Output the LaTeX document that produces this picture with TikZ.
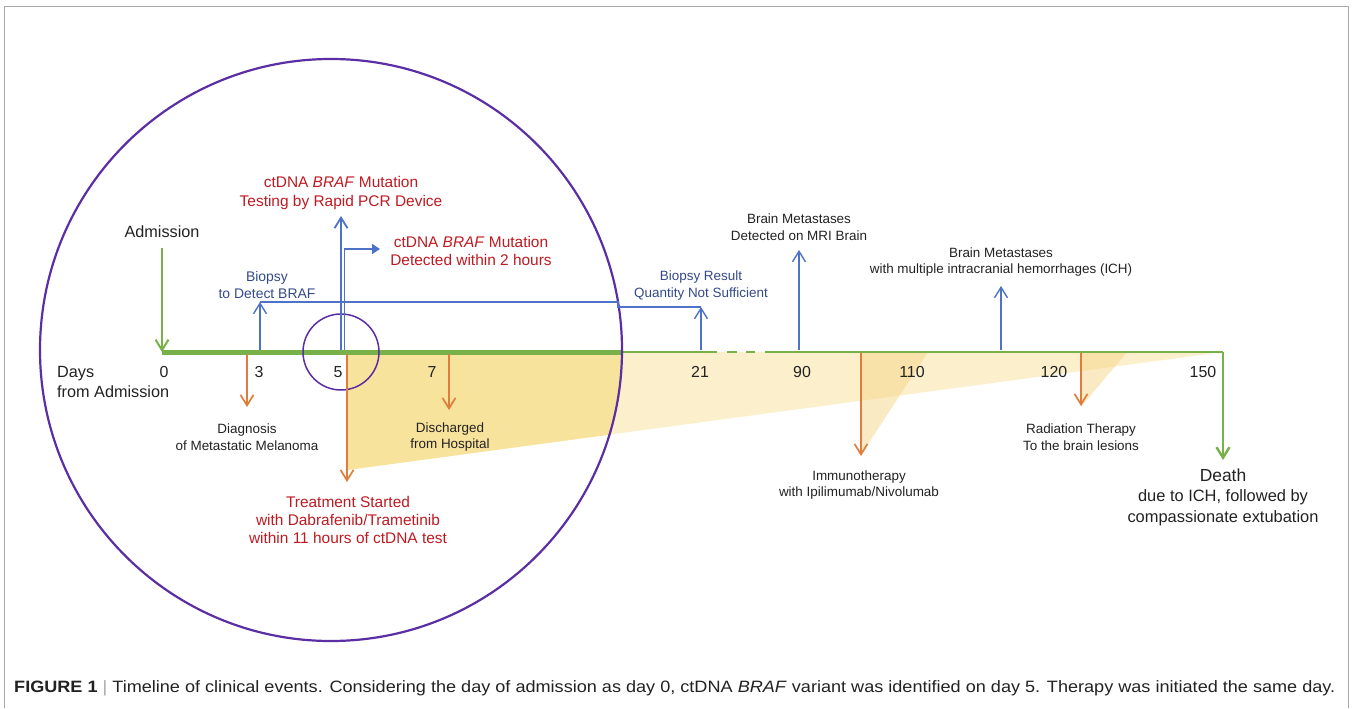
\documentclass[tikz,border=0pt]{standalone}
\usepackage{fontspec}
\setmainfont{Liberation Sans}
\usetikzlibrary{arrows.meta}
\definecolor{tlgreen}{HTML}{78B04A}
\definecolor{evorange}{HTML}{DF7E3C}
\definecolor{evblue}{HTML}{4E72C8}
\definecolor{lblblue}{HTML}{34498A}
\definecolor{evred}{HTML}{BE1A22}
\definecolor{circpurple}{HTML}{5B2EA3}
\definecolor{yelstrong}{HTML}{F8E39C}
\definecolor{yellight}{HTML}{FCEFCB}
\definecolor{yeltri}{HTML}{F6D689}
\definecolor{txtdark}{HTML}{222222}
\definecolor{framegray}{HTML}{A8A8A8}
\newsavebox\capbox
\begin{document}
\sbox\capbox{\fontsize{16.5}{19}\selectfont\color{txtdark}\textbf{FIGURE 1}\ {\color{framegray}|}\ Timeline of clinical events. Considering the day of admission as day 0, ctDNA \textit{BRAF} variant was identified on day 5. Therapy was initiated the same day.}%
\begin{tikzpicture}[x=1bp,y=-1bp,
  lbl/.style={font=\fontsize{13.5}{17}\selectfont, text=txtdark, align=center, inner sep=0pt},
  lblblue/.style={lbl, text=lblblue},
  redlbl/.style={font=\fontsize{15.5}{18.5}\selectfont, text=evred, align=center, inner sep=0pt},
  biglbl/.style={font=\fontsize{16.3}{19.5}\selectfont, text=txtdark, align=center, inner sep=0pt},
  daynum/.style={font=\fontsize{16}{19}\selectfont, text=txtdark, inner sep=0pt},
  vhead/.style={-{Straight Barb[length=10.5bp,width=13bp]}},
  bluearr/.style={vhead, draw=evblue, line width=1.4bp},
  orangearr/.style={vhead, draw=evorange, line width=1.7bp},
  greenarr/.style={vhead, draw=tlgreen, line width=2bp},
]
\useasboundingbox (0,0) rectangle (1352,708);
% frame
\draw[framegray, line width=1bp] (4.5,708) -- (4.5,6.5) -- (1348.5,6.5) -- (1348.5,708);

% yellow wedges
\fill[yellight] (347,352) -- (1223,352) -- (347,470) -- cycle;
\begin{scope}
  \clip (331,350) circle[radius=291];
  \fill[yelstrong] (347,352) -- (1223,352) -- (347,470) -- cycle;
\end{scope}
\fill[yeltri, opacity=0.5] (861,352) -- (928,352) -- (861,455) -- cycle;
\fill[yeltri, opacity=0.5] (1081,352) -- (1127,352) -- (1081,407) -- cycle;

% timeline coordinates
\coordinate (t0) at (162,352);
\coordinate (tcirc) at (622,352);
\coordinate (tgapA) at (717,352);
\coordinate (tgapB) at (765,352);
\coordinate (tend) at (1223,352);
\coordinate (dashA1) at (727,352);
\coordinate (dashA2) at (737,352);
\coordinate (dashB1) at (746,352);
\coordinate (dashB2) at (755,352);

% timeline
\draw[tlgreen, line width=2.2bp] (tcirc) -- (tgapA);
\draw[tlgreen, line width=2.2bp] (dashA1) -- (dashA2);
\draw[tlgreen, line width=2.2bp] (dashB1) -- (dashB2);
\draw[tlgreen, line width=2.2bp] (tgapB) -- (tend);
\draw[tlgreen, line width=5bp] (t0) -- (tcirc);

% big circle and small circle
\draw[circpurple, line width=2.2bp] (331,350) circle[radius=291];
\draw[circpurple, line width=1.5bp] (341,352) circle[radius=38];

% Admission
\node[biglbl] (adm) at (162,232) {Admission};
\coordinate (admS) at (162,248);
\draw[greenarr] (admS) -- (t0);

% Days from admission
\node[biglbl, anchor=west, align=left] (days) at (57,382) {Days\\from Admission};

% day numbers
\node[daynum] (d0) at (164,372) {0};
\node[daynum] (d3) at (259,372) {3};
\node[daynum] (d5) at (338,372) {5};
\node[daynum] (d7) at (432,372) {7};
\node[daynum] (d21) at (700,372) {21};
\node[daynum] (d90) at (802,372) {90};
\node[daynum] (d110) at (912,372) {110};
\node[daynum] (d120) at (1054,372) {120};
\node[daynum] (d150) at (1203,372) {150};

% Diagnosis
\coordinate (diagT) at (247,354);
\coordinate (diagB) at (247,407);
\draw[orangearr] (diagT) -- (diagB);
\node[lbl] (diag) at (247,437) {Diagnosis\\of Metastatic Melanoma};

% Biopsy
\coordinate (bioB) at (260,350);
\coordinate (bioT) at (260,302);
\coordinate (bioC1) at (618,302);
\coordinate (bioC2) at (618,307);
\coordinate (resT) at (701,307);
\coordinate (resB) at (701,350);
\draw[evblue, line width=1.3bp] (bioT) -- (bioC1) -- (bioC2) -- (resT);
\draw[bluearr] (bioB) -- (bioT);
\draw[bluearr] (resB) -- (resT);
\node[lblblue, font=\fontsize{14}{17.5}\selectfont] (bio) at (267,285) {Biopsy\\to Detect BRAF};
\node[lblblue] (res) at (701,285.5) {Biopsy Result\\Quantity Not Sufficient};

% ctDNA testing
\coordinate (testB) at (341,350);
\coordinate (testT) at (341,216);
\draw[bluearr, line width=1.8bp] (testB) -- (testT);
\node[redlbl] (test) at (341,193) {ctDNA \textit{BRAF} Mutation\\Testing by Rapid PCR Device};

% ctDNA detected
\coordinate (detB) at (344.5,350);
\coordinate (detC) at (344.5,249);
\coordinate (detE) at (380,249);
\draw[evblue, line width=1.8bp, -{Triangle[length=8bp,width=10bp]}] (detB) -- (detC) -- (detE);
\node[redlbl] (det) at (471,251) {ctDNA \textit{BRAF} Mutation\\Detected within 2 hours};

% Treatment
\coordinate (trtT) at (347,354);
\coordinate (trtB) at (347,482);
\draw[orangearr] (trtT) -- (trtB);
\node[redlbl] (trt) at (348,520) {Treatment Started\\with Dabrafenib/Trametinib\\within 11 hours of ctDNA test};

% Discharged
\coordinate (disT) at (449,354);
\coordinate (disB) at (449,410);
\draw[orangearr] (disT) -- (disB);
\node[lbl] (dis) at (450,437) {Discharged\\from Hospital};

% Brain MRI
\coordinate (mriB) at (799,350);
\coordinate (mriT) at (799,250);
\draw[bluearr] (mriB) -- (mriT);
\node[lbl] (mri) at (799,227.5) {Brain Metastases\\Detected on MRI Brain};

% Brain ICH
\coordinate (ichB) at (1001,350);
\coordinate (ichT) at (1001,286);
\draw[bluearr] (ichB) -- (ichT);
\node[lbl] (ich) at (1001,262) {Brain Metastases\\with multiple intracranial hemorrhages (ICH)};

% Immunotherapy
\coordinate (immT) at (861,353);
\coordinate (immB) at (861,456);
\draw[orangearr] (immT) -- (immB);
\node[lbl] (imm) at (859,485) {Immunotherapy\\with Ipilimumab/Nivolumab};

% Radiation
\coordinate (radT) at (1081,353);
\coordinate (radB) at (1081,406);
\draw[orangearr] (radT) -- (radB);
\node[lbl] (rad) at (1081,437.5) {Radiation Therapy\\To the brain lesions};

% Death
\coordinate (dthB) at (1223,460);
\draw[greenarr, line width=2.4bp] (tend) -- (dthB);
\node[biglbl, font=\fontsize{16.5}{20.5}\selectfont] (dth) at (1223,497) {{\fontsize{17.5}{20.5}\selectfont Death}\\due to ICH, followed by\\compassionate extubation};

% caption
\node[anchor=base west, inner sep=0pt] (cap) at (14,692) {\resizebox{1321bp}{\height}{\usebox\capbox}};
\end{tikzpicture}
\end{document}
